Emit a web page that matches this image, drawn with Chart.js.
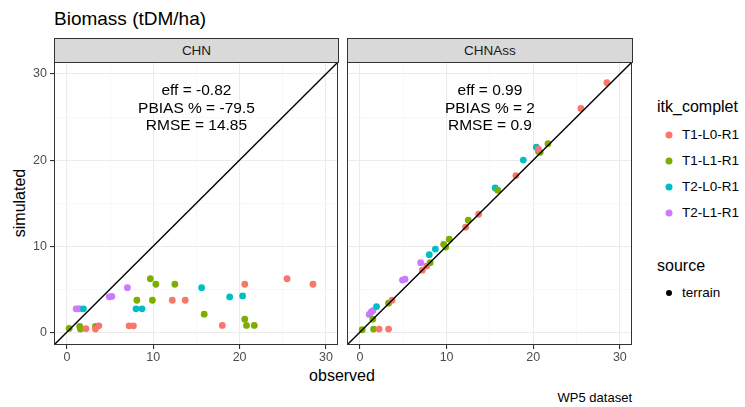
<!DOCTYPE html>
<html>
<head>
<meta charset="utf-8">
<script src="https://cdn.jsdelivr.net/npm/chart.js@4/dist/chart.umd.min.js"></script>
<style>
  html, body { margin: 0; padding: 0; background: #fff; }
  #page { position: relative; width: 745px; height: 407px; overflow: hidden;
          font-family: "Liberation Sans", Arial, sans-serif; color: #000; }
  .txt { position: absolute; white-space: nowrap; line-height: 1; }
  .vc { transform: translateY(-50%); }
  .strip { position: absolute; box-sizing: border-box; background: #D9D9D9;
           border: 1px solid #333333; font-size: 13.5px; color: #1A1A1A;
           display: flex; align-items: center; justify-content: center; }
  .dot { position: absolute; width: 7px; height: 7px; border-radius: 50%;
         transform: translate(-50%, -50%); }
  canvas { position: absolute; }
</style>
</head>
<body>
<div id="page">
  <div class="txt vc" style="left:54px; top:18px; font-size:19px;">Biomass (tDM/ha)</div>

  <div class="strip" style="left:54px; top:38px; width:285px; height:25px;">CHN</div>
  <div class="strip" style="left:347px; top:38px; width:286px; height:25px;">CHNAss</div>

  <div class="txt" style="left:20px; top:203px; font-size:16px; transform: translate(-50%, -50%) rotate(-90deg);">simulated</div>
  <div class="txt" style="left:342px; top:376px; font-size:16px; transform: translate(-50%, -50%);">observed</div>
  <div class="txt" style="left:632px; top:397px; font-size:13px; transform: translate(-100%, -50%);">WP5 dataset</div>

  <div id="legend"></div>

  <canvas id="chn" width="345" height="320" style="left:0px; top:55px; width:345px; height:320px;"></canvas>
  <canvas id="chnass" width="300" height="320" style="left:340px; top:55px; width:300px; height:320px;"></canvas>
</div>

<script>
// ---- data -------------------------------------------------------------
const groups = ['T1-L0-R1', 'T1-L1-R1', 'T2-L0-R1', 'T2-L1-R1'];
const groupColors = ['#F8766D', '#7CAE00', '#00BFC4', '#C77CFF'];

// observed biomass (tDM/ha) per treatment
const obsT1L0 = [2.2, 3.3, 3.7, 7.2, 7.7, 12.2, 13.7, 18.0, 20.6, 25.5, 28.5];
const obsT1L1 = [0.25, 1.48, 1.56, 3.3, 8.1, 9.66, 9.9, 10.3, 12.5, 15.9, 20.6, 20.8, 21.7];
const obsT2L0 = [1.91, 8.0, 8.7, 15.6, 18.85, 20.35];
const obsT2L1 = [1.06, 1.3, 1.5, 4.9, 5.2, 7.0];

// simulated biomass, model CHN
const chnT1L0 = [0.4, 0.35, 0.73, 0.73, 0.73, 3.7, 3.7, 0.77, 5.56, 6.2, 5.56];
const chnT1L1 = [0.43, 0.66, 0.35, 0.66, 3.7, 6.2, 3.7, 5.56, 5.56, 2.08, 1.5, 0.77, 0.77];
const chnT2L0 = [2.7, 2.7, 2.7, 5.17, 4.09, 4.2];
const chnT2L1 = [2.7, 2.7, 2.7, 4.1, 4.15, 5.17];

// simulated biomass, model CHNAss
const assT1L0 = [0.35, 0.35, 3.7, 7.2, 7.67, 12.2, 13.7, 18.2, 21.26, 26.0, 29.0];
const assT1L1 = [0.27, 1.5, 0.35, 3.36, 8.07, 10.2, 9.88, 10.8, 13.0, 16.5, 21.0, 20.9, 21.9];
const assT2L0 = [2.97, 9.0, 9.65, 16.75, 20.0, 21.5];
const assT2L1 = [2.05, 2.35, 2.5, 6.05, 6.15, 8.07];

// goodness-of-fit statistics shown in each panel
const statsCHN = ['eff = -0.82', 'PBIAS % = -79.5', 'RMSE = 14.85'];
const statsCHNAss = ['eff = 0.99', 'PBIAS % = 2', 'RMSE = 0.9'];

// axis settings
const AXIS_MIN = -1.5;
const AXIS_MAX = 31.4;
const tickValues = [0, 5, 10, 15, 20, 25, 30];
const STAT_X = 15;
const STAT_Y = 26;

// ---- helpers ----------------------------------------------------------
const FONT = '"Liberation Sans", Arial, sans-serif';
const pair = (xs, ys) => xs.map((x, i) => ({ x: x, y: ys[i] }));

function pointSets(simLists) {
  const obsLists = [obsT1L0, obsT1L1, obsT2L0, obsT2L1];
  return groups.map((g, i) => ({
    type: 'scatter',
    label: g,
    data: pair(obsLists[i], simLists[i]),
    backgroundColor: groupColors[i],
    borderWidth: 0,
    pointRadius: 3.4,
    pointHoverRadius: 3.4,
    order: 1
  }));
}

function identityLine() {
  return {
    type: 'line',
    label: '1:1',
    data: [{ x: AXIS_MIN, y: AXIS_MIN }, { x: AXIS_MAX, y: AXIS_MAX }],
    borderColor: '#000000',
    borderWidth: 1.4,
    pointRadius: 0,
    showLine: true,
    fill: false,
    order: 0
  };
}

const isMajor = v => v % 10 === 0;
const gridStyle = (drawTicks) => ({
  color: ctx => (ctx.tick && isMajor(ctx.tick.value)) ? '#EBEBEB' : '#F3F3F3',
  lineWidth: ctx => (ctx.tick && isMajor(ctx.tick.value)) ? 1.1 : 0.6,
  tickColor: ctx => (ctx.tick && isMajor(ctx.tick.value)) ? '#333333' : 'rgba(0,0,0,0)',
  drawTicks: drawTicks,
  tickLength: 4
});

function axis(showLabels, fitSize, horizontal) {
  return {
    type: 'linear',
    min: AXIS_MIN,
    max: AXIS_MAX,
    afterBuildTicks: s => { s.ticks = tickValues.map(v => ({ value: v })); },
    ticks: {
      display: showLabels,
      autoSkip: false,
      maxRotation: 0,
      padding: horizontal ? 1 : 3,
      color: '#4D4D4D',
      font: { family: FONT, size: 12.5 },
      callback: v => isMajor(v) ? String(v) : ''
    },
    grid: gridStyle(showLabels),
    border: { display: false },
    afterFit: s => {
      if (horizontal) s.height = fitSize; else s.width = fitSize;
      // the panel edges are fixed by the layout padding alone
      s.paddingTop = 0; s.paddingBottom = 0; s.paddingLeft = 0; s.paddingRight = 0;
    }
  };
}

// panel frame and statistics text
const panelPlugin = {
  id: 'panelDecor',
  afterDatasetsDraw(chart, args, opts) {
    const c = chart.ctx, a = chart.chartArea;
    const xs = chart.scales.x, ys = chart.scales.y;
    c.save();
    c.fillStyle = '#000000';
    c.font = '15.5px ' + FONT;
    c.textAlign = 'center';
    c.textBaseline = 'middle';
    const cx = xs.getPixelForValue(STAT_X);
    const cy = ys.getPixelForValue(STAT_Y);
    const lh = 17.5;
    opts.lines.forEach((t, i) => {
      c.fillText(t, cx, cy + (i - (opts.lines.length - 1) / 2) * lh);
    });
    c.strokeStyle = '#333333';
    c.lineWidth = 1;
    c.strokeRect(Math.round(a.left) + 0.5, Math.round(a.top) + 0.5,
                 Math.round(a.right - a.left) - 1, Math.round(a.bottom - a.top) - 1);
    c.restore();
  }
};

function makePanel(id, simLists, stats, withYAxis, padding) {
  return new Chart(document.getElementById(id), {
    type: 'scatter',
    data: { datasets: [identityLine()].concat(pointSets(simLists)) },
    options: {
      responsive: false,
      animation: false,
      events: [],
      layout: { padding: padding },
      scales: {
        x: axis(true, 30, true),
        y: axis(withYAxis, withYAxis ? 54 : 0, false)
      },
      plugins: {
        legend: { display: false },
        tooltip: { enabled: false },
        panelDecor: { lines: stats }
      }
    },
    plugins: [panelPlugin]
  });
}

makePanel('chn', [chnT1L0, chnT1L1, chnT2L0, chnT2L1], statsCHN, true,
          { left: 0, right: 7, top: 7, bottom: 0 });
makePanel('chnass', [assT1L0, assT1L1, assT2L0, assT2L1], statsCHNAss, false,
          { left: 7, right: 8, top: 7, bottom: 0 });

// ---- legend -------------------------------------------------------------
const legend = document.getElementById('legend');
function addText(text, left, top, size) {
  const d = document.createElement('div');
  d.className = 'txt vc';
  d.style.left = left + 'px';
  d.style.top = top + 'px';
  d.style.fontSize = size + 'px';
  d.textContent = text;
  legend.appendChild(d);
}
function addDot(color, left, top, size) {
  const d = document.createElement('div');
  d.className = 'dot';
  d.style.left = left + 'px';
  d.style.top = top + 'px';
  d.style.width = size + 'px';
  d.style.height = size + 'px';
  d.style.background = color;
  legend.appendChild(d);
}
addText('itk_complet', 657, 107, 16);
groups.forEach((g, i) => {
  const y = 135 + i * 26;
  addDot(groupColors[i], 669, y, 7);
  addText(g, 682, y, 13.5);
});
addText('source', 657, 266, 16);
addDot('#000000', 669, 293, 6);
addText('terrain', 682, 293, 13.5);
</script>
</body>
</html>
